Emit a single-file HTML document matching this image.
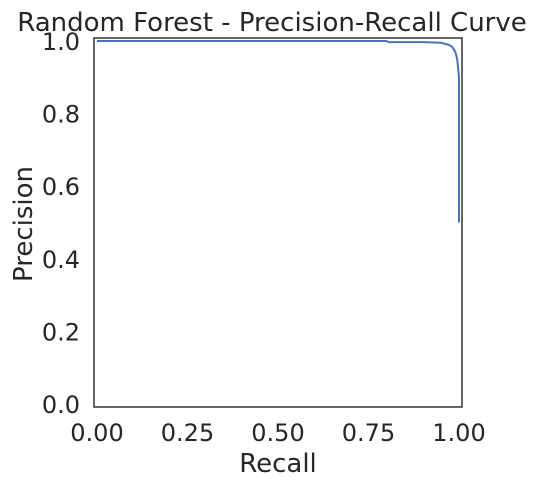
<!DOCTYPE html>
<html><head><meta charset="utf-8"><style>
body{margin:0;background:#fff;}
svg text{font-family:"DejaVu Sans","Liberation Sans",sans-serif;fill:#262626;}
</style></head><body>
<svg width="548" height="486" xmlns="http://www.w3.org/2000/svg">
<text x="272" y="31" font-size="26" text-anchor="middle">Random Forest - Precision-Recall Curve</text>
<g id="xt"></g>
<g id="yt"></g>
<path id="curve" fill="none" stroke="#4c72b0" stroke-width="2"/>
<rect x="94" y="38" width="368" height="369" fill="none" stroke="#333" stroke-width="1.5"/>
<text x="278" y="472" font-size="26" text-anchor="middle">Recall</text>
<text x="0" y="0" font-size="26" text-anchor="middle" transform="translate(32,224) rotate(-90)">Precision</text>
</svg>
<script>
const recall=[0,0.3,0.6,0.8,0.805,0.9,0.95,0.97,0.98,0.99,0.995,0.998,1.0,1.0];
const precision=[1.0,1.0,1.0,1.0,0.997,0.997,0.995,0.99,0.985,0.97,0.95,0.92,0.90,0.5];
const xTicks=["0.00","0.25","0.50","0.75","1.00"];
const yTicks=["0.0","0.2","0.4","0.6","0.8","1.0"];
const X=v=>97+v*362, Y=v=>404-v*363;
const ns="http://www.w3.org/2000/svg";
const xt=document.getElementById('xt'), yt=document.getElementById('yt');
xTicks.forEach(t=>{const e=document.createElementNS(ns,'text');


e.setAttribute('x',X(+t));e.setAttribute('y',441);e.setAttribute('font-size','24');e.setAttribute('text-anchor','middle');e.textContent=t;xt.appendChild(e);});
yTicks.forEach(t=>{const e=document.createElementNS(ns,'text');


e.setAttribute('x',80);e.setAttribute('y',Y(+t)+9);e.setAttribute('font-size','24');e.setAttribute('text-anchor','end');e.textContent=t;yt.appendChild(e);});
let d=recall.map((r,i)=>(i?'L':'M')+X(r).toFixed(1)+' '+Y(precision[i]).toFixed(1)).join(' ');
document.getElementById('curve').setAttribute('d',d);
</script>
</body></html>
